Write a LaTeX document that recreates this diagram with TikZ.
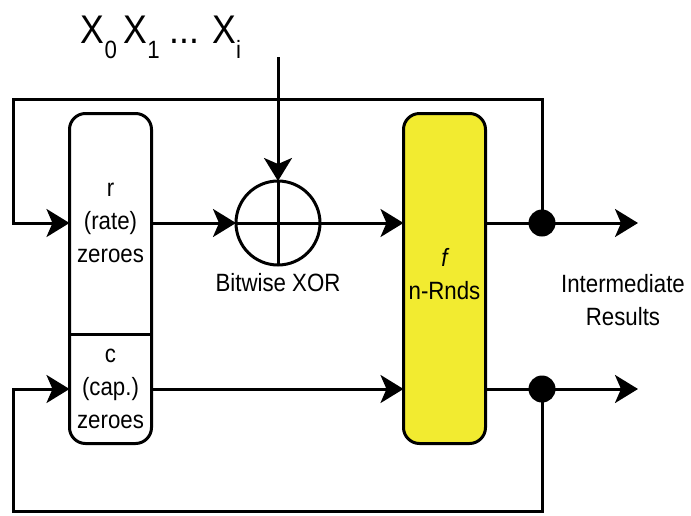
\documentclass[tikz,border=0pt]{standalone}
\usepackage{fontspec}
\setmainfont[FakeStretch=0.89]{Liberation Sans}
\usetikzlibrary{arrows.meta, positioning}
\definecolor{rndyellow}{RGB}{242,235,48}
\newcommand{\xsub}[1]{\raisebox{-15pt}{\fontsize{25}{25}\selectfont #1}}

\begin{document}
\begin{tikzpicture}[x=1pt, y=-1pt, line width=3pt,
	every node/.style={font=\fontsize{25}{33}\selectfont, align=center},
	regbox/.style={draw, rounded corners=16pt, outer sep=0pt, minimum width=82pt, minimum height=330pt},
	xorgate/.style={draw, circle, outer sep=0pt, minimum size=84pt, inner sep=0pt},
	junction/.style={circle, fill=black, minimum size=27pt, inner sep=0pt},
	arr/.style={-{Stealth[length=23pt, width=28pt, inset=6pt]}}]

	\useasboundingbox (0,0) rectangle (691,515);

	\node[regbox] (state) at (110.5,278.5) {};
	\node[regbox, fill=rndyellow, right=252pt of state] (perm) {};
	\node[xorgate] (xor) at (278,223) {};

	\node (rate) at (110.5,223) {r\\(rate)\\zeroes};
	\node (cap) at (110.5,389) {c\\(cap.)\\zeroes};
	\node (fn) at (444.5,274) {{\itshape f}\\n-Rnds};
	\node (xorlbl) at (278,283) {Bitwise XOR};
	\node (res) at (623,300) {Intermediate\\Results};
	\node[anchor=base, font=\fontsize{40}{40}\selectfont] (inp) at (161,43)
		{X\xsub{0}\,X\xsub{1} ... X\xsub{i}};

	\node[junction] (j1) at (542,223) {};
	\node[junction] (j2) at (542,389) {};
	\coordinate (div) at (0,334);
	\coordinate (src) at (278,57);
	\coordinate (out1) at (638,223);
	\coordinate (out2) at (638,389);
	\coordinate (fbtop) at (13,99);
	\coordinate (fbbot) at (13,511);

	\draw (state.west |- div) -- (state.east |- div);
	\draw (xor.north) -- (xor.south) (xor.west) -- (xor.east);

	\draw[arr] (src) -- (xor.north);
	\draw[arr] (state.east |- xor) -- (xor.west);
	\draw[arr] (xor.east) -- (perm.west |- xor);
	\draw[arr] (state.east |- cap) -- (perm.west |- cap);
	\draw[arr] (perm.east |- j1) -- (out1);
	\draw[arr] (perm.east |- j2) -- (out2);
	\draw[arr] (j1.center) |- (fbtop) |- (state.west |- xor);
	\draw[arr] (j2.center) |- (fbbot) |- (state.west |- cap);
\end{tikzpicture}
\end{document}
